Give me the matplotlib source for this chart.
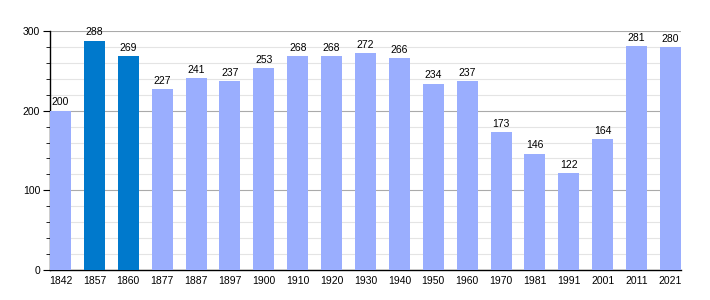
import matplotlib.pyplot as plt
from matplotlib.ticker import MultipleLocator

years = ["1842", "1857", "1860", "1877", "1887", "1897", "1900", "1910", "1920", "1930",
         "1940", "1950", "1960", "1970", "1981", "1991", "2001", "2011", "2021"]
population = [200, 288, 269, 227, 241, 237, 253, 268, 268, 272,
              266, 234, 237, 173, 146, 122, 164, 281, 280]
highlight = ["1857", "1860"]

plt.rcParams['font.family'] = ['Liberation Sans', 'DejaVu Sans']

fig = plt.figure(figsize=(7.1, 3.0), dpi=100)
ax = fig.add_axes([50/710, 30/300, 631/710, 239/300])

w = 0.62
cols = ["#0079cc" if y in highlight else "#9aaefe" for y in years]
x = list(range(len(years)))
ax.bar(x, population, width=w, align="edge", color=cols, zorder=3)

for i, v in enumerate(population):
    ax.text(i + w/2, v + 4, str(v), ha="center", va="bottom", fontsize=7.5, zorder=4)

ax.set_xlim(0, len(years) - 1 + w)
ax.set_ylim(0, 300)
ax.set_xticks([i + w/2 for i in x])
ax.set_xticklabels(years, fontsize=7.5)
ax.tick_params(axis="x", length=0, pad=4)

ax.yaxis.set_major_locator(MultipleLocator(100))
ax.yaxis.set_minor_locator(MultipleLocator(20))
ax.tick_params(axis="y", which="major", length=5, labelsize=7.5, pad=2)
ax.tick_params(axis="y", which="minor", length=3)
ax.grid(axis="y", which="major", color="#aaaaaa", linewidth=0.8, zorder=0)
ax.grid(axis="y", which="minor", color="#e4e4e4", linewidth=0.8, zorder=0)

for s in ["top", "right"]:
    ax.spines[s].set_visible(False)
ax.spines["left"].set_linewidth(1)
ax.spines["bottom"].set_linewidth(1)

fig.savefig("out.png", dpi=100)
